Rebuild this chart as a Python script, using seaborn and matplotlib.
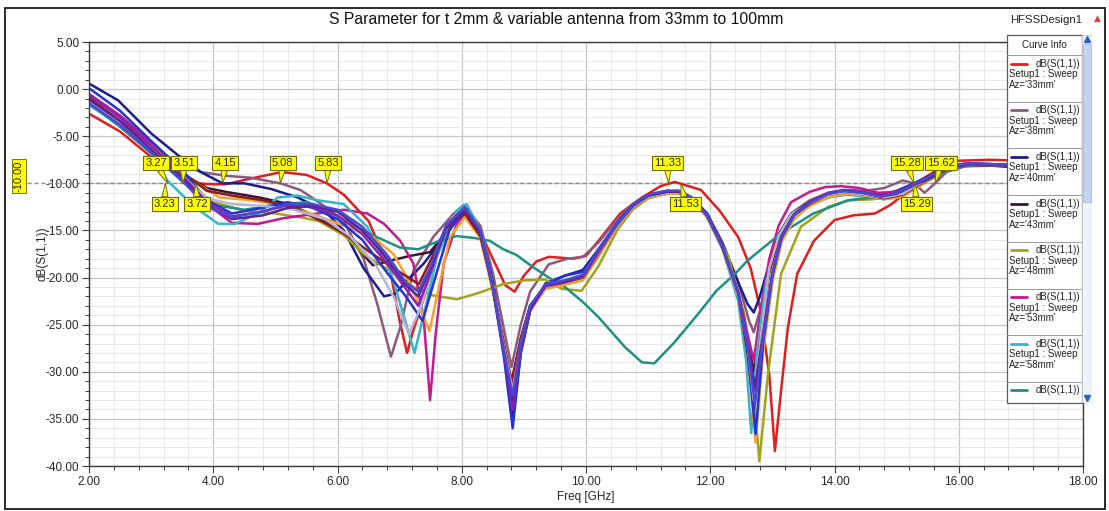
import matplotlib
matplotlib.use("Agg")
import matplotlib.pyplot as plt
from matplotlib.patches import Rectangle
from matplotlib.ticker import MultipleLocator, FormatStrFormatter
import pandas as pd
import seaborn as sns

sns.set_theme(style="white")
plt.rcParams["font.family"] = ["Liberation Sans Narrow", "Liberation Sans", "DejaVu Sans"]

# ---------------------------------------------------------------- data
# Return loss dB(S(1,1)) vs frequency [GHz] for each antenna length Az
f33 = [2.0, 2.5, 3.0, 3.4, 3.72, 4.0, 4.2, 4.6, 5.1, 5.5, 5.83, 6.1, 6.5, 6.85, 7.0, 7.12, 7.22, 7.4, 7.6, 7.9,
       8.08, 8.3, 8.5, 8.7, 8.85, 9.0, 9.2, 9.4, 9.8, 10.0, 10.25, 10.55, 10.9, 11.2, 11.43, 11.85, 12.15, 12.45,
       12.65, 12.8, 12.95, 13.04, 13.14, 13.25, 13.4, 13.67, 14.0, 14.3, 14.65, 14.9, 15.15, 15.3, 15.5, 15.7,
       16.0, 16.5, 17.0, 17.5, 18.0]
db33 = [-2.6, -4.5, -7.2, -8.8, -10.0, -10.1, -10.1, -9.5, -8.8, -9.1, -10.0, -11.2, -14.0, -19.3, -24.6, -28.0,
        -25.6, -22.0, -16.8, -14.0, -13.6, -15.2, -18.0, -20.8, -21.5, -19.8, -18.3, -17.8, -18.0, -17.7, -15.7,
        -13.2, -11.5, -10.3, -9.85, -10.7, -12.9, -15.7, -19.0, -23.2, -30.3, -38.4, -32.0, -25.3, -19.6, -16.1,
        -13.9, -13.4, -13.2, -12.3, -11.0, -10.0, -9.2, -8.4, -7.6, -7.5, -7.6, -8.0, -8.3]

f38 = [2.0, 2.5, 3.0, 3.4, 3.8, 4.2, 4.6, 5.08, 5.4, 5.7, 6.1, 6.42, 6.64, 6.86, 7.01, 7.22, 7.54, 7.87, 8.03,
       8.3, 8.5, 8.68, 8.8, 8.95, 9.1, 9.4, 9.7, 9.95, 10.2, 10.5, 10.75, 11.0, 11.3, 11.5, 11.7, 11.95, 12.2,
       12.45, 12.62, 12.7, 12.8, 12.95, 13.1, 13.3, 13.6, 13.9, 14.2, 14.5, 14.8, 15.1, 15.28, 15.45, 15.62,
       15.8, 16.1, 16.7, 17.3, 18.0]
db38 = [-1.0, -3.0, -5.8, -7.8, -8.8, -9.2, -9.4, -10.0, -10.7, -12.0, -14.0, -18.0, -22.8, -28.4, -25.3, -19.3,
        -15.7, -13.2, -12.3, -14.5, -19.5, -25.5, -29.5, -25.0, -21.5, -18.6, -18.0, -17.8, -16.3, -13.8, -12.2,
        -11.2, -10.8, -10.9, -11.5, -13.2, -16.3, -20.5, -24.5, -25.8, -23.5, -19.0, -15.5, -13.2, -11.8, -11.0,
        -10.7, -10.8, -10.5, -9.7, -10.0, -11.0, -10.0, -8.8, -8.2, -8.1, -8.4, -8.7]

f40 = [2.0, 2.47, 3.0, 3.43, 3.8, 4.15, 4.5, 4.93, 5.36, 5.79, 6.1, 6.42, 6.75, 6.93, 7.12, 7.39, 7.71, 7.92,
       8.08, 8.3, 8.5, 8.68, 8.82, 8.95, 9.1, 9.35, 9.66, 9.95, 10.2, 10.5, 10.75, 11.0, 11.3, 11.5, 11.7, 11.95,
       12.2, 12.45, 12.6, 12.7, 12.8, 12.95, 13.1, 13.3, 13.6, 13.9, 14.15, 14.45, 14.75, 15.0, 15.28, 15.5,
       15.8, 16.1, 16.7, 17.3, 18.0]
db40 = [0.6, -1.2, -4.7, -7.0, -8.8, -10.0, -10.0, -10.6, -11.5, -12.9, -15.0, -19.0, -22.0, -21.7, -20.3, -18.5,
        -15.7, -13.6, -12.7, -15.0, -20.5, -28.0, -35.0, -28.0, -23.5, -20.6, -19.8, -19.2, -17.0, -14.2, -12.3,
        -11.3, -10.8, -10.8, -11.5, -13.2, -16.5, -20.5, -22.8, -23.7, -22.0, -18.5, -15.5, -13.3, -12.0, -11.1,
        -10.9, -11.0, -11.2, -10.8, -10.0, -9.3, -8.3, -7.9, -8.0, -8.3, -8.6]

f43 = [2.0, 2.5, 3.0, 3.5, 3.9, 4.2, 4.74, 5.22, 5.68, 6.11, 6.57, 6.85, 7.17, 7.49, 7.65, 7.85, 8.05, 8.3, 8.5,
       8.68, 8.8, 8.95, 9.1, 9.35, 9.65, 9.95, 10.2, 10.5, 10.75, 11.0, 11.3, 11.5, 11.7, 11.95, 12.2, 12.45,
       12.6, 12.7, 12.82, 12.95, 13.1, 13.3, 13.6, 13.9, 14.2, 14.5, 14.8, 15.1, 15.3, 15.55, 15.85, 16.2, 16.7,
       17.3, 18.0]
db43 = [-1.2, -3.5, -6.2, -9.0, -10.5, -10.9, -11.5, -12.2, -13.6, -15.3, -18.7, -18.2, -17.7, -17.3, -16.0,
        -13.8, -12.8, -15.5, -21.0, -27.5, -31.5, -26.5, -23.0, -20.9, -20.4, -19.9, -17.3, -14.4, -12.5, -11.4,
        -11.0, -11.0, -11.7, -13.5, -16.9, -21.8, -26.5, -30.0, -25.0, -19.0, -15.5, -13.3, -12.1, -11.2, -10.9,
        -11.1, -11.5, -11.1, -10.3, -9.3, -8.3, -8.0, -8.1, -8.4, -8.7]

f48 = [2.0, 2.5, 3.0, 3.5, 4.0, 4.5, 5.0, 5.4, 5.7, 6.1, 6.42, 6.85, 7.22, 7.54, 7.92, 8.24, 8.67, 9.0, 9.34,
       9.61, 9.93, 10.2, 10.5, 10.75, 11.0, 11.3, 11.5, 11.75, 12.0, 12.3, 12.55, 12.7, 12.79, 12.93, 13.14,
       13.46, 13.9, 14.22, 14.6, 15.0, 15.3, 15.6, 15.9, 16.3, 17.0, 18.0]
db48 = [-0.8, -3.5, -6.4, -9.6, -12.0, -12.9, -13.2, -13.6, -14.0, -15.5, -17.5, -19.3, -21.0, -21.9, -22.3,
        -21.7, -20.7, -20.3, -20.2, -21.2, -21.4, -18.8, -15.0, -12.8, -11.6, -11.1, -11.1, -12.0, -14.0, -18.0,
        -24.0, -32.0, -39.5, -30.2, -19.6, -14.6, -12.5, -11.8, -11.7, -11.3, -10.4, -9.3, -8.3, -8.0, -8.3, -8.7]

f53 = [2.0, 2.5, 3.0, 3.5, 3.9, 4.3, 4.72, 5.13, 5.68, 6.1, 6.48, 6.75, 7.01, 7.22, 7.39, 7.49, 7.58, 7.71, 7.92,
       8.08, 8.3, 8.5, 8.68, 8.82, 8.95, 9.1, 9.35, 9.65, 9.95, 10.2, 10.5, 10.75, 11.0, 11.3, 11.5, 11.7, 11.95,
       12.2, 12.45, 12.6, 12.7, 12.8, 12.95, 13.1, 13.3, 13.6, 13.85, 14.1, 14.4, 14.7, 15.0, 15.28, 15.5, 15.8,
       16.1, 16.7, 17.3, 18.0]
db53 = [-0.5, -2.8, -5.6, -9.0, -12.2, -14.2, -14.3, -13.7, -13.2, -12.8, -13.2, -14.3, -16.1, -18.5, -24.6,
        -33.0, -26.0, -18.5, -14.3, -13.2, -15.5, -21.0, -28.0, -34.0, -27.5, -23.5, -20.9, -20.4, -19.8, -17.2,
        -14.3, -12.4, -11.3, -10.9, -10.9, -11.6, -13.4, -16.8, -21.5, -26.0, -28.8, -24.0, -18.0, -14.5, -12.0,
        -10.9, -10.4, -10.3, -10.5, -11.0, -10.9, -10.2, -9.4, -8.3, -7.9, -8.1, -8.4, -8.7]

f58 = [2.0, 2.5, 3.0, 3.26, 3.7, 4.08, 4.35, 4.72, 5.04, 5.36, 5.68, 6.1, 6.48, 6.85, 7.06, 7.24, 7.39, 7.6, 7.92,
       8.08, 8.3, 8.5, 8.68, 8.82, 8.95, 9.1, 9.35, 9.65, 9.95, 10.2, 10.5, 10.75, 11.0, 11.3, 11.5, 11.7, 11.95,
       12.2, 12.45, 12.58, 12.66, 12.75, 12.9, 13.1, 13.3, 13.6, 13.9, 14.2, 14.5, 14.8, 15.05, 15.3, 15.55,
       15.85, 16.2, 16.7, 17.3, 18.0]
db58 = [-1.7, -3.8, -6.8, -9.7, -12.5, -14.3, -14.3, -13.2, -11.5, -11.3, -11.8, -12.2, -14.6, -19.3, -23.9,
        -28.0, -23.9, -17.8, -12.9, -12.2, -15.0, -21.0, -27.5, -33.0, -27.0, -23.3, -21.0, -20.6, -20.0, -17.5,
        -14.6, -12.6, -11.5, -11.1, -11.0, -11.7, -13.6, -17.0, -22.5, -29.0, -36.5, -28.0, -20.5, -16.0, -13.5,
        -12.3, -11.5, -11.2, -11.4, -11.7, -11.4, -10.5, -9.4, -8.3, -8.0, -8.1, -8.4, -8.7]

f63 = [2.0, 2.5, 3.0, 3.5, 4.0, 4.5, 5.0, 5.5, 6.0, 6.5, 7.0, 7.3, 7.6, 7.92, 8.2, 8.45, 8.67, 8.88, 9.15, 9.4,
       9.66, 9.95, 10.2, 10.63, 10.9, 11.1, 11.42, 11.8, 12.1, 12.4, 12.6, 13.12, 13.66, 14.22, 14.6, 15.0, 15.3,
       15.6, 15.9, 16.3, 17.0, 18.0]
db63 = [-1.5, -4.0, -6.8, -9.8, -12.3, -12.8, -12.3, -12.0, -13.5, -15.3, -16.8, -17.0, -16.2, -15.6, -15.8,
        -16.1, -17.0, -17.6, -18.9, -20.0, -21.0, -22.6, -24.2, -27.4, -29.0, -29.1, -26.9, -23.9, -21.4, -19.6,
        -18.2, -15.4, -13.2, -11.8, -11.5, -11.2, -10.5, -9.4, -8.4, -8.0, -8.3, -8.6]

f68 = [2.0, 2.5, 3.0, 3.5, 4.1, 4.63, 5.2, 5.7, 6.1, 6.57, 6.9, 7.12, 7.32, 7.48, 7.6, 7.81, 8.05, 8.3, 8.5, 8.68,
       8.82, 8.95, 9.1, 9.35, 9.65, 9.95, 10.2, 10.5, 10.75, 11.0, 11.3, 11.5, 11.7, 11.95, 12.2, 12.45, 12.6,
       12.73, 12.85, 13.0, 13.15, 13.35, 13.6, 13.9, 14.2, 14.5, 14.8, 15.1, 15.3, 15.55, 15.85, 16.2, 16.7,
       17.3, 18.0]
db68 = [-0.9, -3.2, -6.0, -9.0, -11.5, -11.8, -12.4, -13.5, -14.5, -15.7, -17.5, -20.0, -23.0, -25.7, -22.0,
        -15.7, -13.6, -15.8, -21.5, -28.0, -32.0, -27.0, -23.5, -21.2, -20.8, -20.3, -17.8, -14.6, -12.6, -11.5,
        -11.1, -11.1, -11.8, -13.6, -17.0, -22.0, -28.0, -37.5, -28.0, -20.5, -16.2, -13.8, -12.4, -11.5, -11.1,
        -11.3, -11.7, -11.4, -10.6, -9.5, -8.4, -8.0, -8.1, -8.4, -8.7]

f73 = [2.0, 2.5, 3.0, 3.5, 3.9, 4.3, 4.8, 5.3, 5.8, 6.1, 6.5, 6.9, 7.31, 7.55, 7.8, 8.05, 8.3, 8.5, 8.68, 8.8,
       8.95, 9.1, 9.35, 9.65, 9.95, 10.2, 10.5, 10.75, 11.0, 11.3, 11.5, 11.7, 11.95, 12.2, 12.45, 12.6, 12.7,
       12.8, 12.95, 13.1, 13.3, 13.6, 13.9, 14.2, 14.5, 14.8, 15.1, 15.3, 15.55, 15.85, 16.2, 16.7, 17.3, 18.0]
db73 = [-0.9, -3.4, -6.2, -8.8, -10.8, -11.3, -11.8, -12.6, -14.2, -15.3, -17.2, -19.0, -20.7, -17.5, -14.5,
        -13.2, -15.6, -21.0, -27.0, -31.0, -26.5, -23.0, -21.0, -20.5, -20.0, -17.5, -14.4, -12.5, -11.4, -11.0,
        -11.0, -11.6, -13.5, -16.9, -21.8, -28.0, -34.0, -27.0, -19.5, -15.8, -13.5, -12.2, -11.2, -10.9, -11.2,
        -11.6, -11.2, -10.4, -9.4, -8.4, -8.0, -8.2, -8.5, -8.8]

f78 = [2.0, 2.5, 3.0, 3.5, 3.9, 4.3, 4.8, 5.2, 5.6, 6.0, 6.4, 6.8, 7.1, 7.37, 7.55, 7.8, 8.05, 8.3, 8.5, 8.68,
       8.82, 8.95, 9.1, 9.35, 9.66, 9.95, 10.2, 10.5, 10.75, 11.0, 11.3, 11.5, 11.7, 11.95, 12.2, 12.45, 12.6,
       12.73, 12.85, 13.0, 13.15, 13.35, 13.6, 13.9, 14.15, 14.45, 14.75, 15.0, 15.28, 15.55, 15.85, 16.2, 16.7,
       17.3, 18.0]
db78 = [0.1, -2.3, -5.5, -8.6, -11.8, -13.2, -12.6, -12.0, -12.6, -13.8, -16.0, -19.5, -22.0, -24.6, -20.5,
        -15.0, -12.8, -15.2, -21.0, -28.5, -36.0, -28.0, -23.5, -20.8, -19.8, -19.4, -17.2, -14.3, -12.4, -11.3,
        -10.9, -10.9, -11.6, -13.4, -16.8, -21.8, -27.5, -36.6, -27.0, -19.8, -15.8, -13.4, -12.1, -11.1, -10.8,
        -11.0, -11.4, -11.0, -10.0, -9.2, -8.2, -7.9, -8.0, -8.3, -8.6]

f83 = [2.0, 2.5, 3.0, 3.5, 3.9, 4.3, 4.8, 5.3, 5.8, 6.2, 6.6, 6.9, 7.15, 7.35, 7.6, 7.85, 8.05, 8.3, 8.5, 8.68,
       8.82, 8.95, 9.1, 9.35, 9.65, 9.95, 10.2, 10.5, 10.75, 11.0, 11.3, 11.5, 11.7, 11.95, 12.2, 12.45, 12.6,
       12.7, 12.82, 12.95, 13.1, 13.3, 13.6, 13.9, 14.2, 14.5, 14.8, 15.1, 15.3, 15.55, 15.85, 16.2, 16.7, 17.3,
       18.0]
db83 = [-1.3, -3.6, -6.3, -9.2, -11.6, -12.2, -12.4, -12.8, -13.8, -15.6, -18.5, -22.0, -26.0, -23.0, -17.0,
        -13.6, -12.6, -15.0, -21.0, -27.5, -32.0, -27.0, -23.2, -21.0, -20.4, -19.9, -17.4, -14.5, -12.5, -11.4,
        -11.0, -11.0, -11.7, -13.5, -16.9, -21.9, -27.0, -33.0, -26.0, -19.0, -15.6, -13.3, -12.1, -11.2, -10.9,
        -11.2, -11.5, -11.1, -10.3, -9.3, -8.3, -8.0, -8.1, -8.4, -8.7]

# the three longest antennas were swept on the same frequency points
f_long = [2.0, 2.5, 3.0, 3.5, 3.9, 4.3, 4.8, 5.2, 5.6, 6.0, 6.4, 6.8, 7.1, 7.3, 7.5, 7.75, 8.05, 8.3, 8.5, 8.68,
          8.82, 8.95, 9.1, 9.35, 9.65, 9.95, 10.2, 10.5, 10.75, 11.0, 11.3, 11.5, 11.7, 11.95, 12.2, 12.45, 12.6,
          12.72, 12.85, 13.0, 13.15, 13.35, 13.6, 13.9, 14.15, 14.45, 14.75, 15.0, 15.28, 15.55, 15.85, 16.2,
          16.7, 17.3, 18.0]
db88 = [-0.6, -3.0, -6.0, -9.2, -12.0, -13.5, -13.0, -12.3, -12.5, -13.4, -15.4, -18.5, -21.2, -23.0, -19.5,
        -14.6, -12.6, -15.0, -21.0, -28.0, -34.0, -27.5, -23.4, -20.9, -20.5, -19.9, -17.3, -14.4, -12.4, -11.3,
        -10.9, -10.9, -11.6, -13.4, -16.8, -21.6, -27.0, -32.0, -26.5, -19.6, -15.6, -13.3, -12.0, -11.0, -10.7,
        -10.9, -11.3, -11.0, -10.1, -9.3, -8.2, -7.9, -8.0, -8.3, -8.6]
db93 = [-1.1, -3.4, -6.4, -9.5, -12.3, -13.8, -13.4, -12.6, -12.4, -13.0, -15.0, -18.0, -20.8, -22.0, -19.0,
        -14.8, -12.8, -15.2, -21.2, -28.0, -33.0, -27.0, -23.2, -20.8, -20.4, -19.8, -17.2, -14.3, -12.4, -11.3,
        -10.9, -10.9, -11.6, -13.4, -16.8, -21.7, -27.0, -31.7, -26.0, -19.5, -15.6, -13.3, -12.0, -11.1, -10.8,
        -11.0, -11.4, -11.1, -10.2, -9.4, -8.3, -8.0, -8.1, -8.4, -8.7]
db100 = [-1.5, -3.8, -6.7, -9.7, -12.5, -13.6, -13.0, -12.2, -12.2, -12.8, -14.6, -17.6, -20.5, -21.5, -18.8,
         -14.4, -12.5, -15.0, -21.0, -27.8, -32.5, -27.0, -23.0, -20.7, -20.3, -19.7, -17.1, -14.3, -12.3, -11.2,
         -10.8, -10.8, -11.5, -13.3, -16.7, -21.6, -27.2, -33.5, -26.5, -19.7, -15.7, -13.4, -12.1, -11.1, -10.8,
         -11.0, -11.4, -11.0, -10.1, -9.2, -8.2, -7.9, -8.0, -8.3, -8.6]

lengths = ["33mm", "38mm", "40mm", "43mm", "48mm", "53mm", "58mm", "63mm",
           "68mm", "73mm", "78mm", "83mm", "88mm", "93mm", "100mm"]
freqs = [f33, f38, f40, f43, f48, f53, f58, f63, f68, f73, f78, f83, f_long, f_long, f_long]
gains = [db33, db38, db40, db43, db48, db53, db58, db63, db68, db73, db78, db83, db88, db93, db100]
colors = ["#e21d1d", "#8c5a7c", "#1c1c92", "#3e123e", "#a3a31a", "#c21b8c", "#35b6c8", "#1f8f88",
          "#f2a22e", "#8e1a1a", "#2234d2", "#b6b6d2", "#8a22b4", "#5c2496", "#4a4ad0"]

# -10 dB crossing markers: (frequency, label, box position)
top_markers = [(3.27, "3.27", 3.08), (3.51, "3.51", 3.53), (4.15, "4.15", 4.19), (5.08, "5.08", 5.12),
               (5.83, "5.83", 5.85), (11.33, "11.33", 11.31), (15.28, "15.28", 15.17),
               (15.62, "15.62", 15.72)]
bottom_markers = [(3.23, "3.23", 3.22), (3.72, "3.72", 3.74), (11.53, "11.53", 11.60), (15.29, "15.29", 15.32)]

# ---------------------------------------------------------------- frame
frames = [pd.DataFrame({"Freq": f, "dB": d, "Az": az}) for az, f, d in zip(lengths, freqs, gains)]
df = pd.concat(frames, ignore_index=True)

W, H = 1109, 511
fig = plt.figure(figsize=(W / 100, H / 100), dpi=100)
fig.patch.set_facecolor("white")

ax = fig.add_axes([89 / W, 1 - 466 / H, 994 / W, 424 / H])
sns.lineplot(data=df, x="Freq", y="dB", hue="Az", hue_order=lengths, palette=colors,
             estimator=None, sort=False, lw=1.8, legend=False, ax=ax)

ax.set_xlim(2, 18)
ax.set_ylim(-40, 5)
ax.xaxis.set_major_locator(MultipleLocator(2))
ax.xaxis.set_minor_locator(MultipleLocator(0.4))
ax.yaxis.set_major_locator(MultipleLocator(5))
ax.yaxis.set_minor_locator(MultipleLocator(1))
ax.xaxis.set_major_formatter(FormatStrFormatter("%.2f"))
ax.yaxis.set_major_formatter(FormatStrFormatter("%.2f"))
ax.grid(which="major", color="#c6c6c6", lw=0.9)
ax.grid(which="minor", color="#e8e8e8", lw=0.7)
ax.set_axisbelow(True)
ax.tick_params(which="major", direction="out", length=5, width=0.8, color="#404040",
               labelsize=8.5, labelcolor="#262626", pad=2, bottom=True, left=True)
ax.tick_params(which="minor", direction="out", length=3, width=0.7, color="#404040", bottom=True, left=True)
for s in ax.spines.values():
    s.set_color("#3a3a3a")
    s.set_linewidth(1.0)

ax.set_xlabel("Freq [GHz]", fontsize=8.5, color="#262626")
ax.set_ylabel("dB(S(1,1))", fontsize=8.5, color="#262626")
ax.xaxis.set_label_coords(0.5, -0.073)
ax.xaxis.label.set_va("center")
ax.yaxis.set_label_coords(-0.047, 0.5)
ax.yaxis.label.set_va("center")

# -10 dB reference line, continued out to its value tag
ax.axhline(-10, color="#8c8c8c", lw=1.0, ls=(0, (3, 2)), zorder=1.5)
ax.plot([-0.062, 0], [-10, -10], transform=ax.get_yaxis_transform(), clip_on=False,
        color="#8c8c8c", lw=1.0, ls=(0, (3, 2)))
fig.text(19 / W, 1 - 176 / H, "-10.00", rotation=90, ha="center", va="center", fontsize=8,
         bbox=dict(boxstyle="square,pad=0.15", fc="#ffff00", ec="#7a7a00", lw=0.7))

box_style = dict(boxstyle="square,pad=0.18", fc="#ffff00", ec="#6e6e00", lw=0.8)
arrow_style = dict(arrowstyle="wedge,tail_width=0.55,shrink_factor=0.5", fc="#ffff00", ec="#6e6e00",
                   lw=0.7, shrinkA=0, shrinkB=0)
for fx, lab, bx in top_markers:
    ax.annotate(lab, xy=(fx, -10), xytext=(bx, -7.85), ha="center", va="center", fontsize=8,
                bbox=box_style, arrowprops=arrow_style, zorder=20)
for fx, lab, bx in bottom_markers:
    ax.annotate(lab, xy=(fx, -10), xytext=(bx, -12.2), ha="center", va="center", fontsize=8,
                bbox=box_style, arrowprops=arrow_style, zorder=20)

# ---------------------------------------------------------------- titles
fig.text(556 / W, 1 - 20 / H, "S Parameter for t 2mm & variable antenna from 33mm to 100mm",
         ha="center", va="center", fontsize=11.3, color="#111111")
fig.text(1046 / W, 1 - 20 / H, "HFSSDesign1", ha="center", va="center", fontsize=8.2, color="#222222")
fig.text(1097 / W, 1 - 18 / H, "\u25B2", ha="center", va="center", fontsize=6.5, color="#d64545",
         family="DejaVu Sans")

# ---------------------------------------------------------------- curve info panel
lg = fig.add_axes([1007 / W, 1 - 403 / H, 75 / W, 368 / H])
lg.set_xlim(0, 75)
lg.set_ylim(368, 0)
lg.axis("off")
lg.add_patch(Rectangle((0, 0), 75, 368, fc="white", ec="#5c5c5c", lw=0.9, clip_on=False))
lg.text(37.5, 10, "Curve Info", ha="center", va="center", fontsize=7, color="#222222")
lg.plot([0, 75], [20, 20], color="#9a9a9a", lw=0.7)
pitch = 46.7
for i in range(8):
    y0 = 20 + i * pitch
    lg.plot([4, 20], [y0 + 8.5, y0 + 8.5], color=colors[i], lw=2.0)
    lg.text(73, y0 + 8.5, "dB(S(1,1))", ha="right", va="center", fontsize=7, color="#222222")
    if i < 7:
        lg.text(2, y0 + 19, "Setup1 : Sweep", ha="left", va="center", fontsize=7, color="#222222")
        lg.text(2, y0 + 29.5, f"Az='{lengths[i]}'", ha="left", va="center", fontsize=7, color="#222222")
        lg.plot([0, 75], [y0 + pitch, y0 + pitch], color="#9a9a9a", lw=0.7)

sb = fig.add_axes([1082 / W, 1 - 403 / H, 10 / W, 368 / H])
sb.set_xlim(0, 10)
sb.set_ylim(368, 0)
sb.axis("off")
sb.add_patch(Rectangle((0, 0), 10, 368, fc="#eef2f8", ec="#c4ccd8", lw=0.6))
sb.add_patch(Rectangle((1.2, 9), 7.6, 158, fc="#c4d4ee", ec="#a9bcdc", lw=0.6))
sb.plot([5], [4], marker="^", ms=4, color="#2e5fc4")
sb.plot([5], [363], marker="v", ms=4, color="#2e5fc4")

# outer frame
fig.add_artist(Rectangle((5 / W, 2 / H), 1100 / W, 501 / H, transform=fig.transFigure,
                         fill=False, ec="#1a1a1a", lw=1.3))

fig.savefig("out.png", dpi=100)
